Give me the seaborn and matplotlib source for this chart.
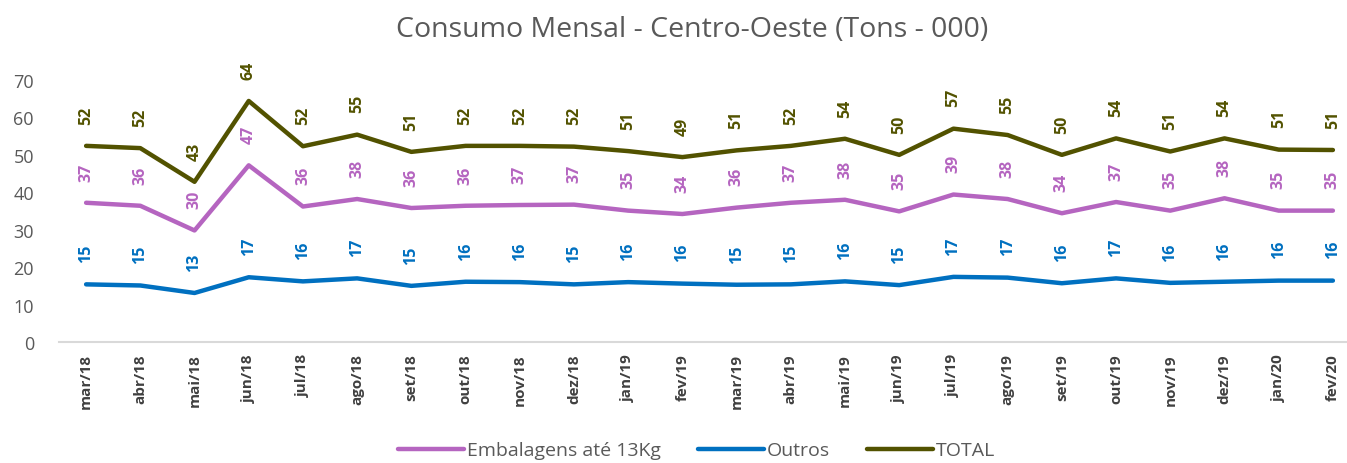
import matplotlib
matplotlib.use("Agg")
import matplotlib.pyplot as plt
import seaborn as sns
import pandas as pd
import numpy as np

months = ["mar/18", "abr/18", "mai/18", "jun/18", "jul/18", "ago/18", "set/18", "out/18",
          "nov/18", "dez/18", "jan/19", "fev/19", "mar/19", "abr/19", "mai/19", "jun/19",
          "jul/19", "ago/19", "set/19", "out/19", "nov/19", "dez/19", "jan/20", "fev/20"]
embalagens = [37.2, 36.4, 29.8, 47.2, 36.2, 38.2, 35.8, 36.4, 36.6, 36.7, 35.1, 34.2,
              35.9, 37.2, 38.0, 34.9, 39.4, 38.2, 34.4, 37.4, 35.1, 38.4, 35.1, 35.1]
outros = [15.4, 15.1, 13.1, 17.3, 16.2, 17.0, 15.0, 16.1, 16.0, 15.4, 16.0, 15.6,
          15.3, 15.4, 16.2, 15.2, 17.4, 17.2, 15.7, 17.0, 15.8, 16.1, 16.4, 16.4]
total = [52.4, 51.8, 42.8, 64.4, 52.3, 55.4, 50.8, 52.4, 52.4, 52.2, 51.0, 49.4,
         51.2, 52.4, 54.3, 50.0, 57.0, 55.3, 50.0, 54.4, 50.9, 54.4, 51.4, 51.3]
series_names = ["Embalagens até 13Kg", "Outros", "TOTAL"]
colors = ["#B565C0", "#0070C0", "#525200"]

sns.set_theme(style="white")
plt.rcParams["font.family"] = ["Open Sans", "DejaVu Sans"]

pos = np.arange(len(months))
df = pd.concat([
    pd.DataFrame({"pos": pos, "valor": vals, "serie": name})
    for name, vals in zip(series_names, [embalagens, outros, total])
], ignore_index=True)

fig = plt.figure(figsize=(13.47, 4.64), dpi=100)
ax = fig.add_axes([59 / 1347, 121 / 464, (1360 - 59) / 1347, (343 - 81) / 464])

sns.lineplot(data=df, x="pos", y="valor", hue="serie", hue_order=series_names,
             palette=dict(zip(series_names, colors)), linewidth=3.2, sort=False,
             ax=ax, legend=False)

for name, vals, col in zip(series_names, [embalagens, outros, total], colors):
    for x, v in zip(pos, vals):
        ax.annotate(f"{v:.0f}", xy=(x, v), xytext=(0, 16), textcoords="offset points",
                    ha="center", va="bottom", rotation=90, fontsize=11.5,
                    fontweight="bold", color=col, annotation_clip=False)

ax.set_xlim(-0.5, len(months) - 0.5)
ax.set_ylim(0, 70)
ax.set_yticks(range(0, 71, 10))
ax.set_yticklabels([str(t) for t in range(0, 71, 10)], fontsize=13, color="#595959")
ax.set_xticks(pos)
ax.set_xticklabels(months, rotation=90, fontsize=11, fontweight="bold", color="#404040")
ax.tick_params(axis="both", length=0)
ax.tick_params(axis="y", pad=18)
ax.tick_params(axis="x", pad=8)
ax.set_xlabel("")
ax.set_ylabel("")
for s in ["top", "right", "left"]:
    ax.spines[s].set_visible(False)
ax.spines["bottom"].set_color("#D9D9D9")
ax.spines["bottom"].set_linewidth(1.5)
ax.grid(False)

fig.text(0.514, 0.935, "Consumo Mensal - Centro-Oeste (Tons - 000)", ha="center", va="center",
         fontsize=20.5, color="#595959")

from matplotlib.lines import Line2D
handles = [Line2D([0], [0], color=c, lw=3.2) for c in colors]
fig.legend(handles, series_names, loc="center", bbox_to_anchor=(0.517, 0.027), ncol=3,
           frameon=False, fontsize=14, handlelength=3.4, handletextpad=0.15,
           columnspacing=1.9, labelcolor="#595959")

fig.savefig("out.png", dpi=100)
